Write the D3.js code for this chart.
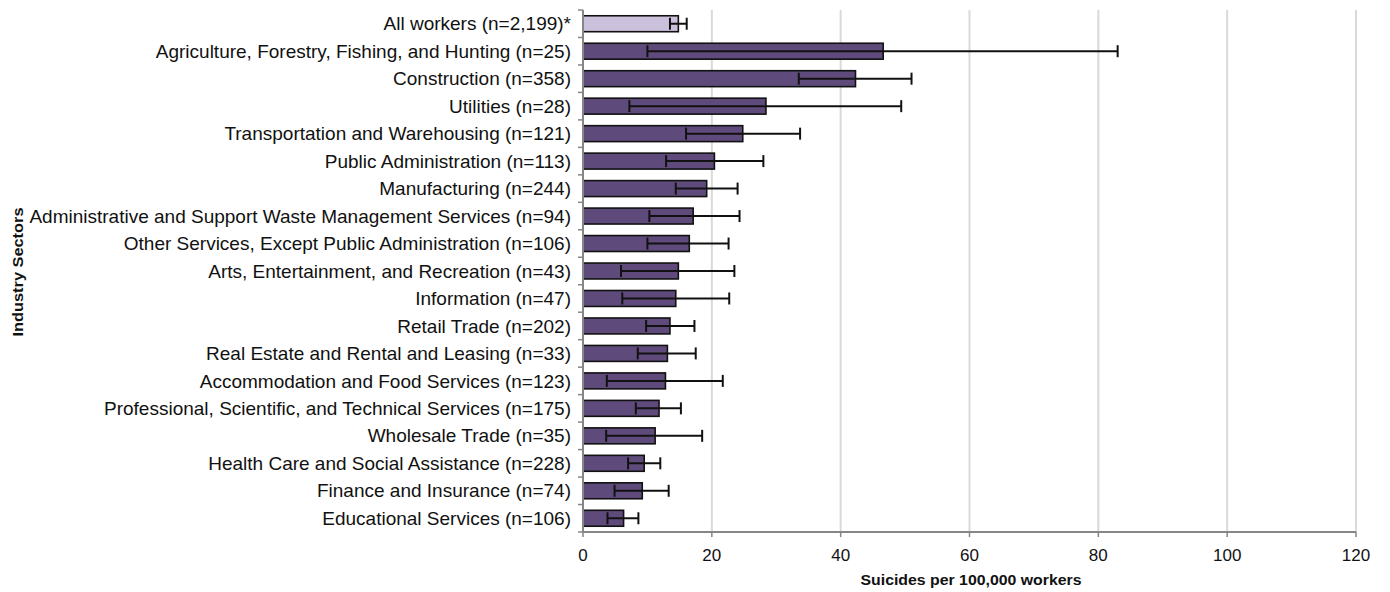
<!DOCTYPE html>
<html><head><meta charset="utf-8">
<script src="https://cdn.jsdelivr.net/npm/d3@7"></script>
<style>body{margin:0;background:#fff}svg{display:block}text{font-family:"Liberation Sans",Arial,sans-serif}</style>
</head><body><svg id="c" width="1390" height="592"></svg>
<script>
const categories = [
 "All workers (n=2,199)*",
 "Agriculture, Forestry, Fishing, and Hunting (n=25)",
 "Construction (n=358)",
 "Utilities (n=28)",
 "Transportation and Warehousing (n=121)",
 "Public Administration (n=113)",
 "Manufacturing (n=244)",
 "Administrative and Support Waste Management Services (n=94)",
 "Other Services, Except Public Administration (n=106)",
 "Arts, Entertainment, and Recreation (n=43)",
 "Information (n=47)",
 "Retail Trade (n=202)",
 "Real Estate and Rental and Leasing (n=33)",
 "Accommodation and Food Services (n=123)",
 "Professional, Scientific, and Technical Services (n=175)",
 "Wholesale Trade (n=35)",
 "Health Care and Social Assistance (n=228)",
 "Finance and Insurance (n=74)",
 "Educational Services (n=106)"
];
const rates = [14.8,46.6,42.3,28.4,24.8,20.4,19.2,17.1,16.5,14.8,14.4,13.5,13.1,12.8,11.8,11.2,9.5,9.2,6.3];
const lower = [13.5,10.0,33.5,7.2,16.0,12.9,14.4,10.3,10.0,5.9,6.1,9.8,8.5,3.7,8.2,3.6,7.0,4.9,3.8];
const upper = [16.1,83.0,51.0,49.4,33.7,28.0,24.0,24.3,22.6,23.5,22.7,17.3,17.5,21.7,15.2,18.5,12.0,13.3,8.6];
const xTicks = [0,20,40,60,80,100,120];

const svg = d3.select("#c");
const L = 583, R = 1356, T = 10, B = 532;
const x = d3.scaleLinear().domain([0,120]).range([L,R]);
const y = d3.scaleBand().domain(categories).range([T,B]).paddingInner(0.42).paddingOuter(0.21);

// gridlines
svg.append("g").selectAll("line").data(xTicks.slice(1)).join("line")
  .attr("x1",d=>x(d)).attr("x2",d=>x(d)).attr("y1",T).attr("y2",B)
  .attr("stroke","#d9d9d9").attr("stroke-width",2);

// bars
svg.append("g").selectAll("rect").data(categories).join("rect")
  .attr("x",x(0)).attr("y",d=>y(d)).attr("height",y.bandwidth())
  .attr("width",(d,i)=>x(rates[i])-x(0))
  .attr("fill",(d,i)=>i===0?"#ccc1dd":"#5f4b7b")
  .attr("stroke","#111").attr("stroke-width",1.6);

// error bars
const eb = svg.append("g").attr("stroke","#111").attr("stroke-width",2);
categories.forEach((c,i)=>{
  const cy = y(c)+y.bandwidth()/2;
  eb.append("line").attr("x1",x(lower[i])).attr("x2",x(upper[i])).attr("y1",cy).attr("y2",cy);
  eb.append("line").attr("x1",x(lower[i])).attr("x2",x(lower[i])).attr("y1",cy-6).attr("y2",cy+6);
  eb.append("line").attr("x1",x(upper[i])).attr("x2",x(upper[i])).attr("y1",cy-6).attr("y2",cy+6);
});

// y axis
const step = (B-T)/categories.length;
const ya = svg.append("g");
ya.append("line").attr("x1",L).attr("x2",L).attr("y1",T).attr("y2",B).attr("stroke","#868686").attr("stroke-width",2);
ya.selectAll("line.t").data(d3.range(categories.length+1)).join("line").attr("class","t")
  .attr("x1",L-5).attr("x2",L).attr("y1",d=>T+d*step).attr("y2",d=>T+d*step)
  .attr("stroke","#868686").attr("stroke-width",1.5);
ya.selectAll("text").data(categories).join("text")
  .attr("x",571).attr("y",d=>y(d)+y.bandwidth()/2).attr("dy","0.35em")
  .attr("text-anchor","end").attr("font-size",19).attr("fill","#111").text(d=>d);

// x axis
const xa = svg.append("g");
xa.append("line").attr("x1",L).attr("x2",R).attr("y1",B).attr("y2",B).attr("stroke","#868686").attr("stroke-width",2);
xa.selectAll("line.t").data(xTicks).join("line").attr("class","t")
  .attr("x1",d=>x(d)).attr("x2",d=>x(d)).attr("y1",B).attr("y2",B+5)
  .attr("stroke","#868686").attr("stroke-width",1.5);
xa.selectAll("text").data(xTicks).join("text")
  .attr("x",d=>x(d)).attr("y",555).attr("dy","0.35em").attr("text-anchor","middle")
  .attr("font-size",17).attr("fill","#111").text(d=>d);

svg.append("text").attr("x",971).attr("y",580).attr("dy","0.35em").attr("text-anchor","middle")
  .attr("font-size",15).attr("font-weight","bold").attr("fill","#111")
  .attr("textLength",221).attr("lengthAdjust","spacingAndGlyphs").text("Suicides per 100,000 workers");
svg.append("text").attr("transform","translate(18,272) rotate(-90)").attr("dy","0.35em").attr("text-anchor","middle")
  .attr("font-size",15).attr("font-weight","bold").attr("fill","#111")
  .attr("textLength",129).attr("lengthAdjust","spacingAndGlyphs").text("Industry Sectors");
</script></body></html>
